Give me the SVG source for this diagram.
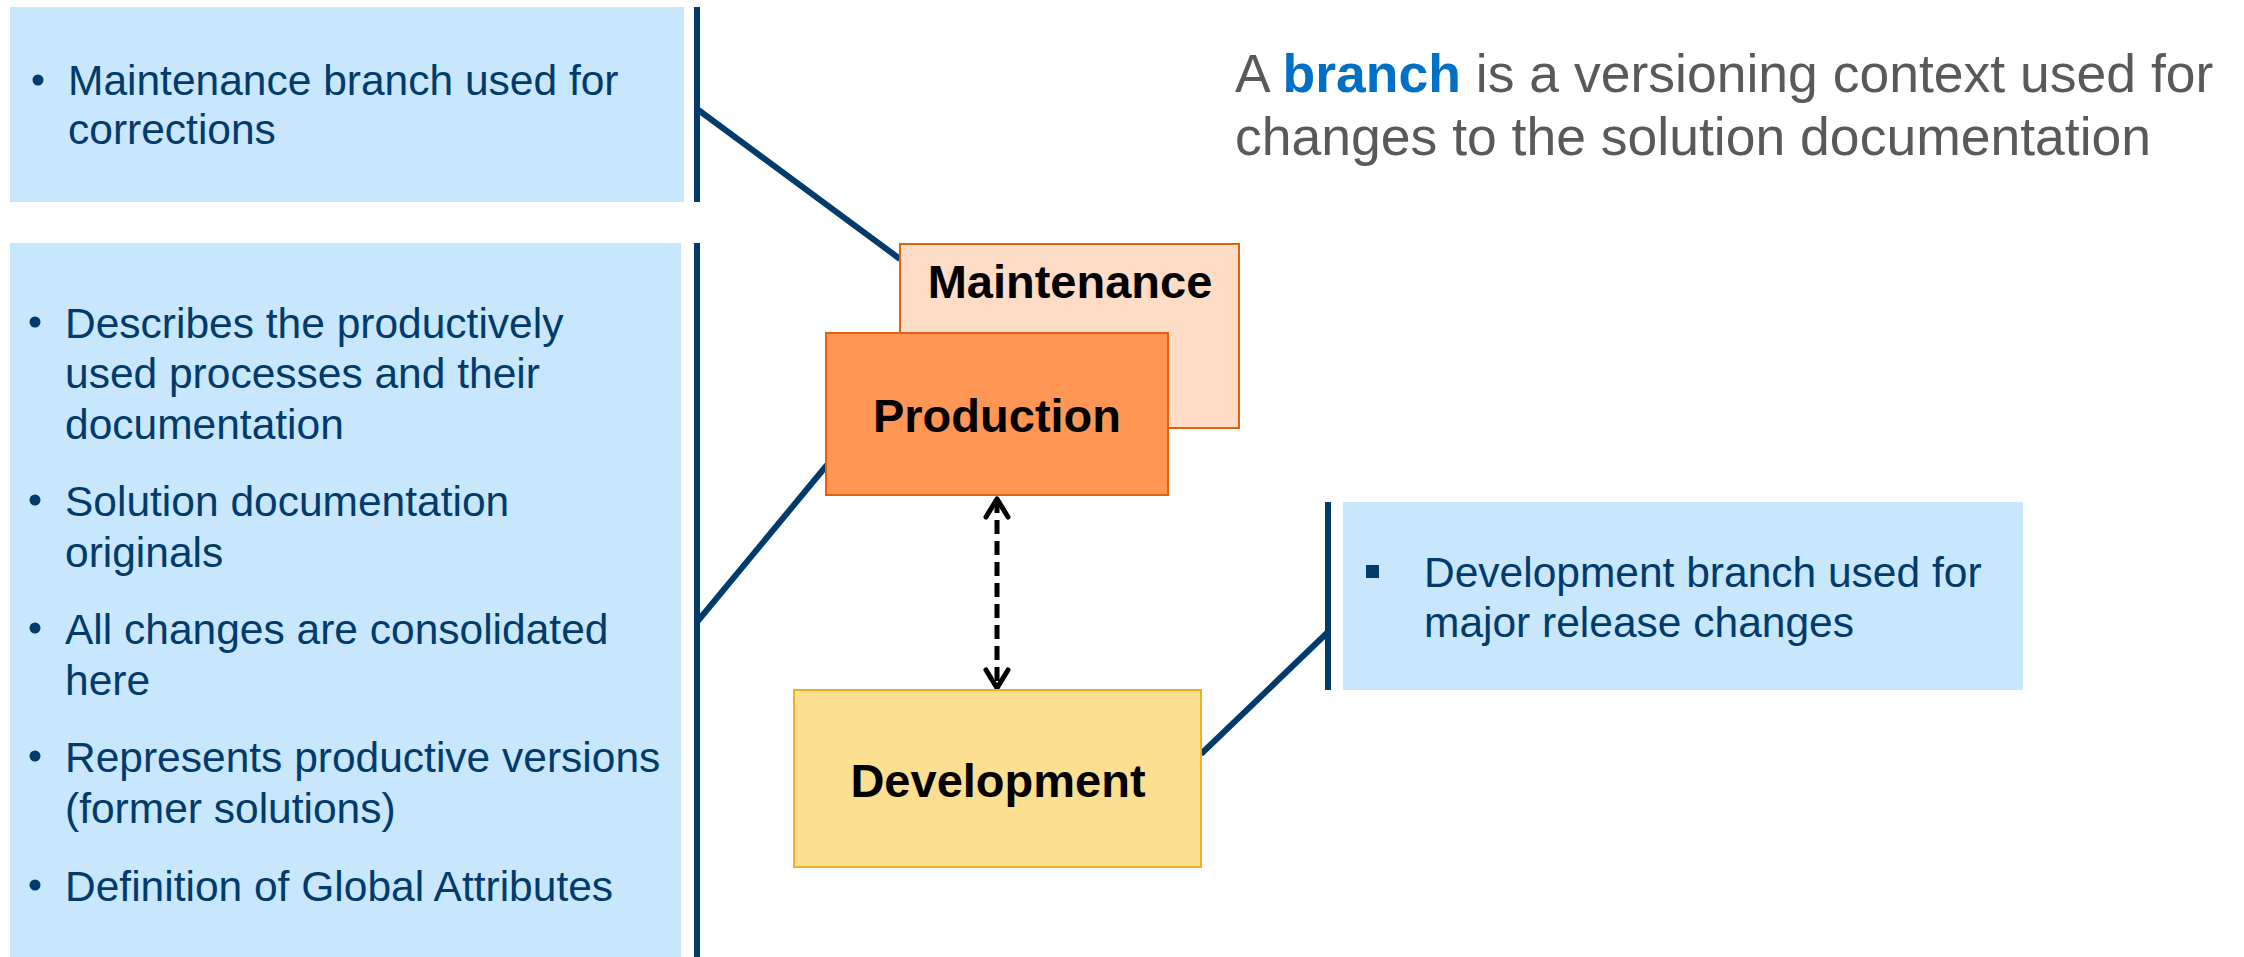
<svg xmlns="http://www.w3.org/2000/svg" width="2244" height="957" viewBox="0 0 2244 957">
<style>
.note{fill:#C8E6FC;}
.bar{stroke:#003B6B;stroke-width:6;fill:none;}
.conn{stroke:#003B6B;stroke-width:6;fill:none;}
.ntxt{font-family:"Liberation Sans",Arial,sans-serif;font-size:42.5px;fill:#003B6B;}
.btxt{font-family:"Liberation Sans",Arial,sans-serif;font-size:47px;font-weight:bold;fill:#000;text-anchor:middle;}
.title{font-family:"Liberation Sans",Arial,sans-serif;font-size:53.5px;fill:#595959;}
.dot{fill:#003B6B;}
</style>
<defs>
<marker id="chev" markerUnits="userSpaceOnUse" orient="auto-start-reverse" refX="0" refY="0" markerWidth="40" markerHeight="40" overflow="visible">
<path d="M -18 -11 L 0 0 L -18 11" fill="none" stroke="#000" stroke-width="5" stroke-linecap="round" stroke-linejoin="round"/>
</marker>
</defs>
<rect width="2244" height="957" fill="#fff"/>

<g id="title">
<text class="title" x="1235" y="92">A <tspan font-weight="bold" fill="#0070C6">branch</tspan> is a versioning context used for</text>
<text class="title" x="1235" y="155">changes to the solution documentation</text>
</g>

<g id="connectors">
<line class="conn" x1="697" y1="109" x2="900" y2="259"/>
<line class="conn" x1="697" y1="622" x2="827" y2="465"/>
<line class="conn" x1="1328" y1="632" x2="1201" y2="754"/>
<line x1="997" y1="499" x2="997" y2="688" stroke="#000" stroke-width="5" stroke-dasharray="14 7" marker-start="url(#chev)" marker-end="url(#chev)"/>
</g>

<g id="note-maintenance">
<rect class="note" x="10" y="7" width="674" height="195"/>
<line class="bar" x1="697" y1="7" x2="697" y2="202"/>
<circle class="dot" cx="38" cy="80" r="5.5"/>
<text class="ntxt" x="68" y="95">Maintenance branch used for</text>
<text class="ntxt" x="68" y="144">corrections</text>
</g>

<g id="note-production">
<rect class="note" x="10" y="243" width="671" height="714"/>
<line class="bar" x1="697" y1="243" x2="697" y2="957"/>
<circle class="dot" cx="35" cy="322" r="5.5"/>
<text class="ntxt" x="65" y="338">Describes the productively</text>
<text class="ntxt" x="65" y="388">used processes and their</text>
<text class="ntxt" x="65" y="439">documentation</text>
<circle class="dot" cx="35" cy="500" r="5.5"/>
<text class="ntxt" x="65" y="516">Solution documentation</text>
<text class="ntxt" x="65" y="567">originals</text>
<circle class="dot" cx="35" cy="628" r="5.5"/>
<text class="ntxt" x="65" y="644">All changes are consolidated</text>
<text class="ntxt" x="65" y="695">here</text>
<circle class="dot" cx="35" cy="756" r="5.5"/>
<text class="ntxt" x="65" y="772">Represents productive versions</text>
<text class="ntxt" x="65" y="823">(former solutions)</text>
<circle class="dot" cx="35" cy="885" r="5.5"/>
<text class="ntxt" x="65" y="901">Definition of Global Attributes</text>
</g>

<g id="note-development">
<rect class="note" x="1343" y="502" width="680" height="188"/>
<line class="bar" x1="1328" y1="502" x2="1328" y2="690"/>
<rect class="dot" x="1366" y="565" width="13" height="13"/>
<text class="ntxt" x="1424" y="587">Development branch used for</text>
<text class="ntxt" x="1424" y="637">major release changes</text>
</g>

<g id="node-maintenance">
<rect x="900" y="244" width="339" height="184" fill="#FFDCC5" stroke="#E8600E" stroke-width="2"/>
<text class="btxt" x="1070" y="298">Maintenance</text>
</g>

<g id="node-production">
<rect x="826" y="333" width="342" height="162" fill="#FF9655" stroke="#E8600E" stroke-width="2"/>
<text class="btxt" x="997" y="432">Production</text>
</g>

<g id="node-development">
<rect x="794" y="690" width="407" height="177" fill="#FDDF91" stroke="#F2B01E" stroke-width="2"/>
<text class="btxt" x="998" y="797">Development</text>
</g>
</svg>
